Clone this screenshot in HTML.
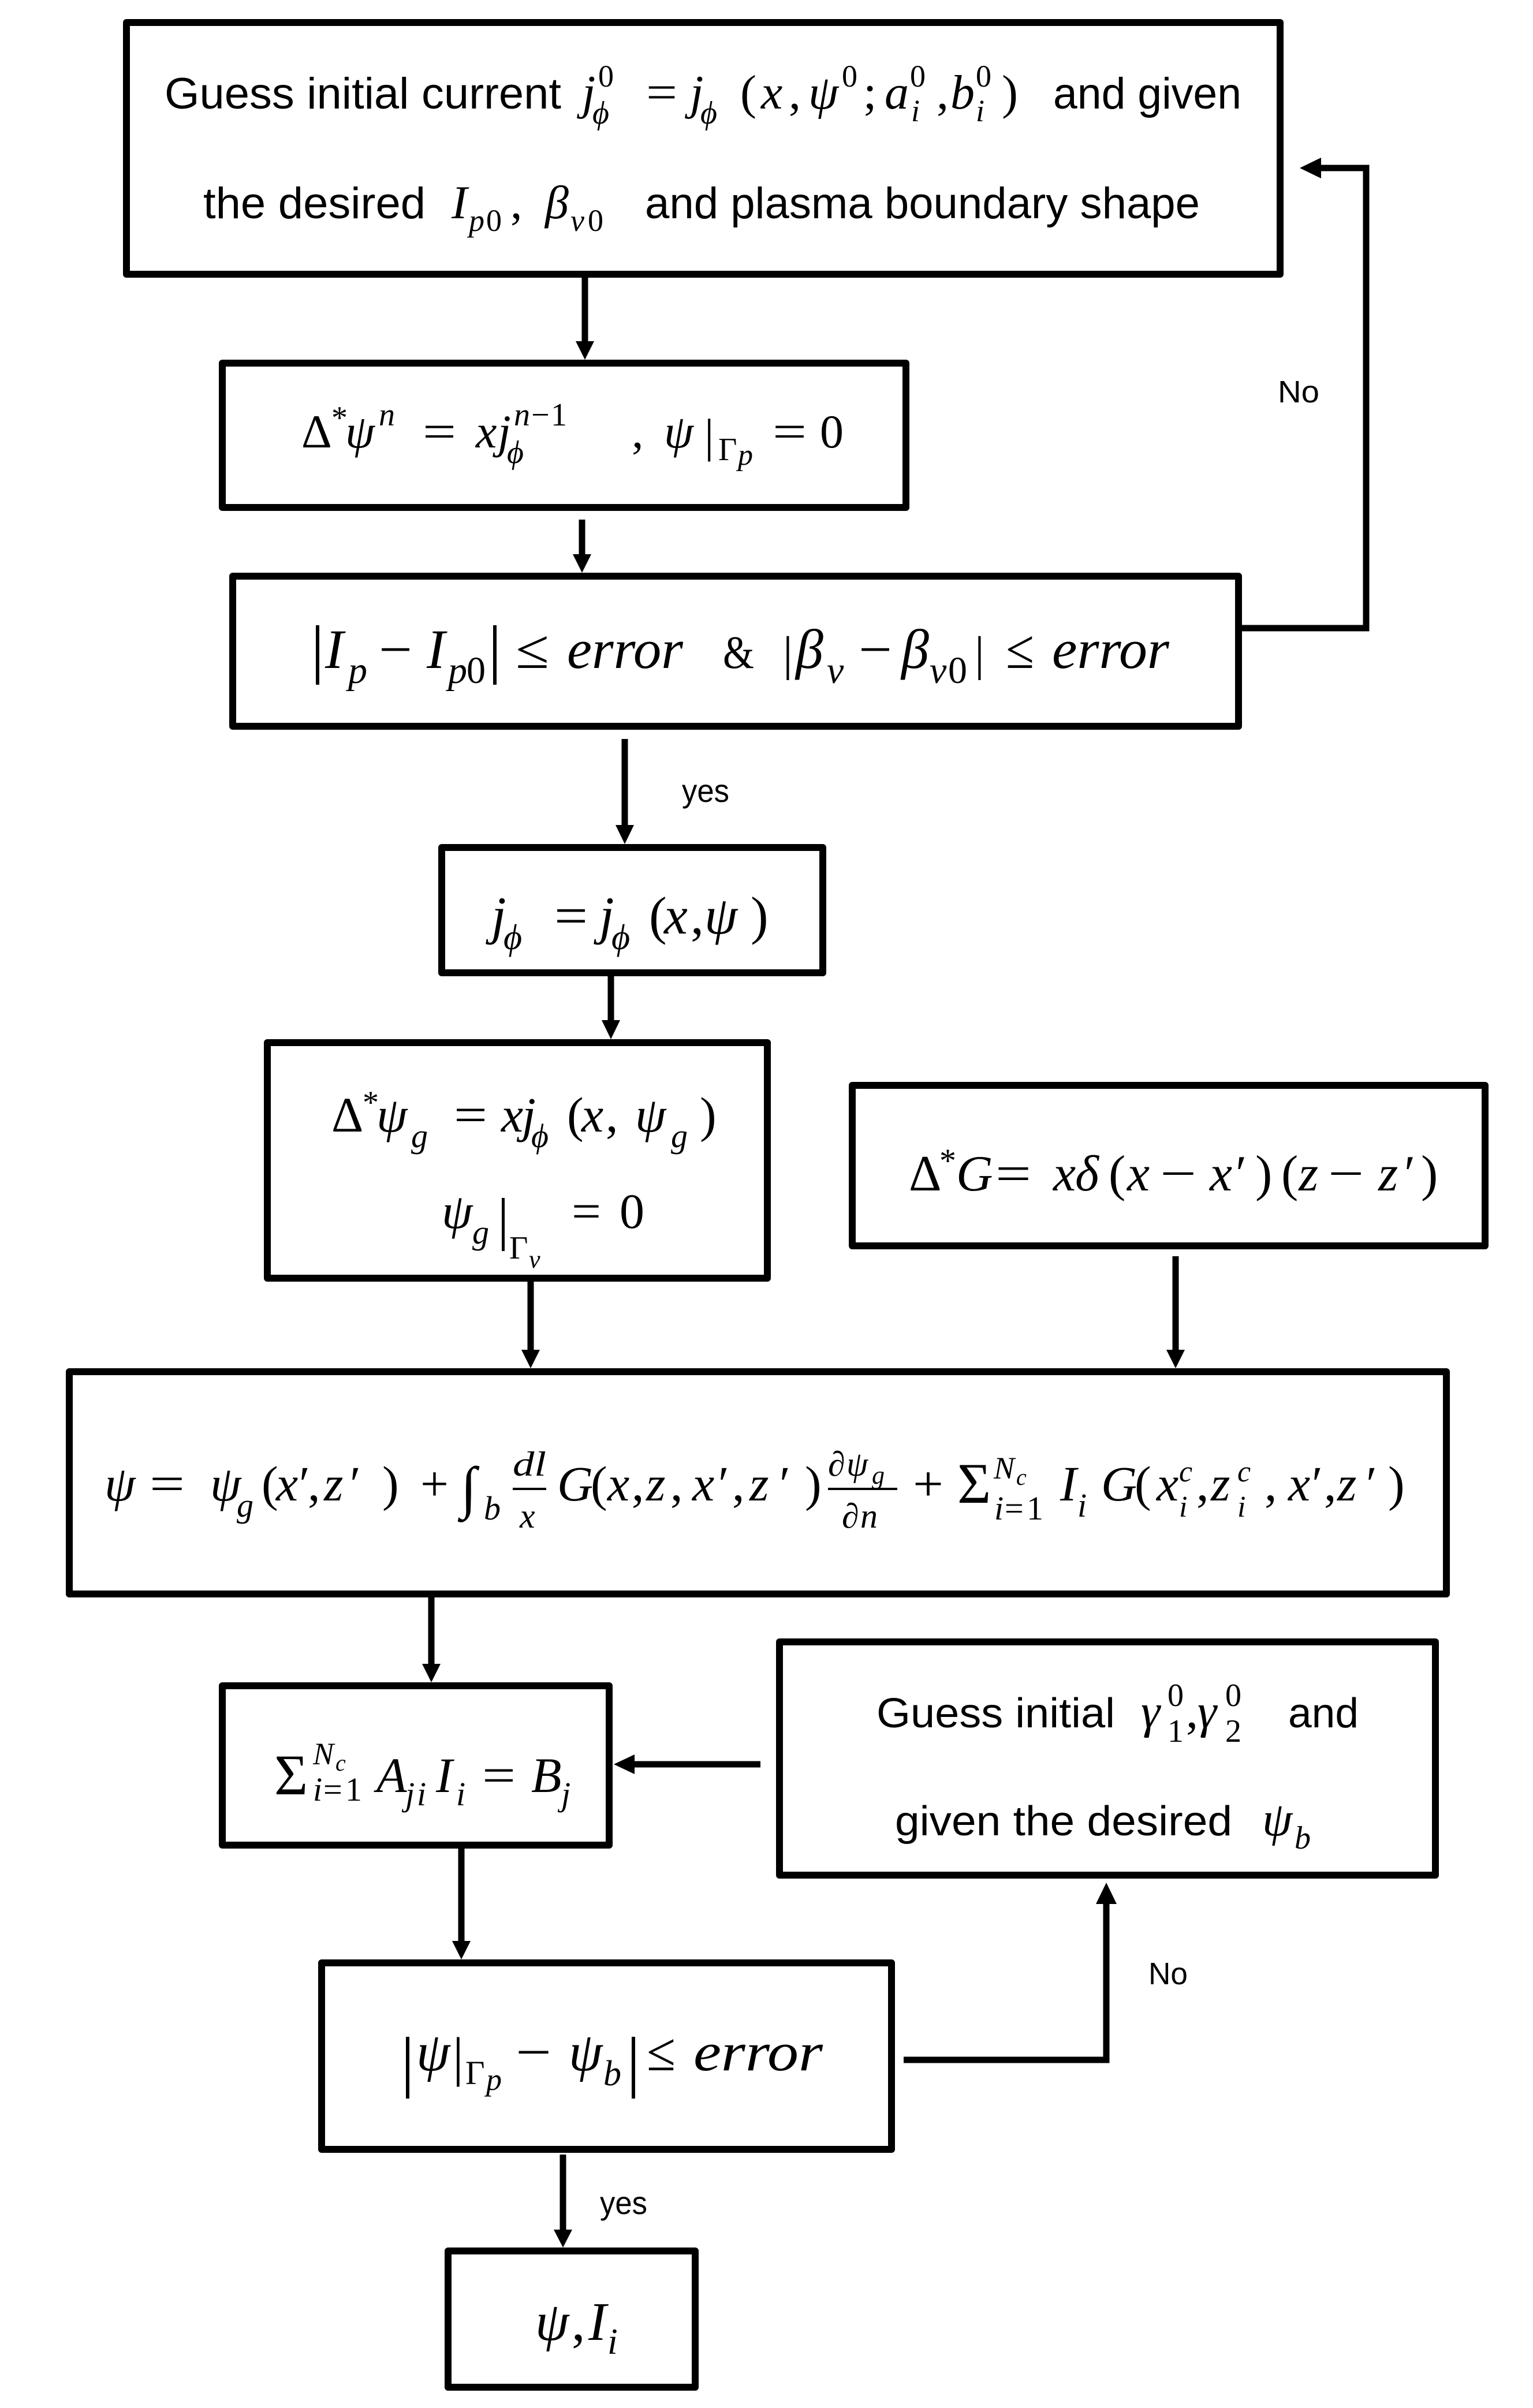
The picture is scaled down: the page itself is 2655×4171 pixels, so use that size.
<!DOCTYPE html>
<html><head><meta charset="utf-8">
<style>
html,body{margin:0;padding:0;background:#fff;}
svg{display:block;}
.s{font-family:"Liberation Sans","DejaVu Sans",sans-serif;}
.m{font-family:"Liberation Serif","DejaVu Serif",serif;font-style:italic;}
.u{font-family:"Liberation Serif","DejaVu Serif",serif;font-style:normal;}
</style></head>
<body>
<svg width="2655" height="4171" viewBox="0 0 2655 4171" xmlns="http://www.w3.org/2000/svg">
<rect width="2655" height="4171" fill="#fff"/>

<!-- boxes -->
<g fill="none" stroke="#000" stroke-width="12" stroke-linejoin="round">
  <rect x="219" y="39" width="1998" height="436"/>
  <rect x="385" y="629" width="1184" height="250"/>
  <rect x="403" y="998" width="1742" height="260"/>
  <rect x="765" y="1468" width="660" height="217"/>
  <rect x="463" y="1806" width="866" height="408"/>
  <rect x="1476" y="1880" width="1096" height="278"/>
  <rect x="120" y="2376" width="2385" height="385"/>
  <rect x="385" y="2920" width="670" height="276"/>
  <rect x="1350" y="2844" width="1136" height="404"/>
  <rect x="557" y="3400" width="987" height="323"/>
  <rect x="776" y="3899" width="428" height="236"/>
</g>

<!-- connectors -->
<g fill="none" stroke="#000" stroke-width="11">
  <line x1="1013" y1="481" x2="1013" y2="594"/>
  <line x1="1008" y1="900" x2="1008" y2="964"/>
  <line x1="1082" y1="1280" x2="1082" y2="1432"/>
  <line x1="1058" y1="1691" x2="1058" y2="1770"/>
  <line x1="919" y1="2220" x2="919" y2="2342"/>
  <line x1="2036" y1="2176" x2="2036" y2="2342"/>
  <line x1="747" y1="2767" x2="747" y2="2886"/>
  <line x1="799" y1="3202" x2="799" y2="3366"/>
  <line x1="975" y1="3732" x2="975" y2="3865"/>
  <line x1="1317" y1="3056" x2="1095" y2="3056"/>
  <polyline points="2151,1088 2366,1088 2366,291 2285,291" stroke-linejoin="miter"/>
  <polyline points="1565,3568 1916,3568 1916,3294" stroke-linejoin="miter"/>
</g>
<g fill="#000">
  <polygon points="997,591 1029,591 1013,623"/>
  <polygon points="992,960 1024,960 1008,992"/>
  <polygon points="1066,1429 1098,1429 1082,1462"/>
  <polygon points="1042,1767 1074,1767 1058,1800"/>
  <polygon points="903,2338 935,2338 919,2370"/>
  <polygon points="2020,2338 2052,2338 2036,2370"/>
  <polygon points="731,2882 763,2882 747,2914"/>
  <polygon points="783,3362 815,3362 799,3394"/>
  <polygon points="959,3862 991,3862 975,3893"/>
  <polygon points="1063,3056 1099,3039 1099,3073"/>
  <polygon points="2251,291 2288,273 2288,309"/>
  <polygon points="1916,3261 1898,3298 1934,3298"/>
  <!-- tall bars and fraction bars -->
  <rect x="547" y="1083" width="6" height="103"/>
  <rect x="854" y="1083" width="6" height="103"/>
  <rect x="869" y="2075" width="5" height="92"/>
  <rect x="703" y="3528" width="6" height="107"/>
  <rect x="1094" y="3528" width="6" height="107"/>
  <rect x="888" y="2577" width="58" height="4"/>
  <rect x="1434" y="2577" width="120" height="4"/>
</g>

<!-- labels -->
<g fill="#000">
  <text class="s" x="2213" y="697" font-size="54" textLength="72" lengthAdjust="spacingAndGlyphs">No</text>
  <text class="s" x="1181" y="1389" font-size="56" textLength="82" lengthAdjust="spacingAndGlyphs">yes</text>
  <text class="s" x="1989" y="3437" font-size="54" textLength="68" lengthAdjust="spacingAndGlyphs">No</text>
  <text class="s" x="1039" y="3835" font-size="56" textLength="82" lengthAdjust="spacingAndGlyphs">yes</text>
</g>

<!-- Box 1 -->
<g fill="#000">
  <text class="s" x="285" y="188" font-size="76" textLength="687" lengthAdjust="spacingAndGlyphs">Guess initial current</text>
  <text class="m" x="1008" y="188" font-size="84">j</text>
  <text class="m" x="1026" y="214" font-size="56">ϕ</text>
  <text class="u" x="1036" y="150" font-size="54">0</text>
  <text class="u" x="1119" y="188" font-size="84" textLength="54" lengthAdjust="spacingAndGlyphs">=</text>
  <text class="m" x="1195" y="188" font-size="84">j</text>
  <text class="m" x="1213" y="214" font-size="56">ϕ</text>
  <text class="u" x="1282" y="188" font-size="84">(</text>
  <text class="m" x="1318" y="188" font-size="84">x</text>
  <text class="u" x="1366" y="188" font-size="84">,</text>
  <text class="m" x="1400" y="188" font-size="84">ψ</text>
  <text class="u" x="1458" y="150" font-size="54">0</text>
  <text class="u" x="1495" y="188" font-size="84">;</text>
  <text class="m" x="1532" y="188" font-size="84">a</text>
  <text class="u" x="1576" y="150" font-size="54">0</text>
  <text class="m" x="1578" y="210" font-size="54">i</text>
  <text class="u" x="1622" y="188" font-size="84">,</text>
  <text class="m" x="1646" y="188" font-size="84">b</text>
  <text class="u" x="1690" y="150" font-size="54">0</text>
  <text class="m" x="1690" y="210" font-size="54">i</text>
  <text class="u" x="1735" y="188" font-size="84">)</text>
  <text class="s" x="1824" y="188" font-size="76" textLength="326" lengthAdjust="spacingAndGlyphs">and given</text>

  <text class="s" x="352" y="378" font-size="76" textLength="385" lengthAdjust="spacingAndGlyphs">the desired</text>
  <text class="m" x="782" y="378" font-size="82">I</text>
  <text class="m" x="812" y="400" font-size="54">p</text>
  <text class="u" x="842" y="400" font-size="54">0</text>
  <text class="u" x="884" y="378" font-size="82">,</text>
  <text class="m" x="944" y="378" font-size="82">β</text>
  <text class="m" x="988" y="400" font-size="54">v</text>
  <text class="u" x="1018" y="400" font-size="54">0</text>
  <text class="s" x="1117" y="378" font-size="76" textLength="961" lengthAdjust="spacingAndGlyphs">and plasma boundary shape</text>
</g>

<!-- Box 2 -->
<g fill="#000">
  <text class="u" x="522" y="775" font-size="82">Δ</text>
  <text class="u" x="574" y="742" font-size="56">*</text>
  <text class="m" x="598" y="775" font-size="82">ψ</text>
  <text class="m" x="656" y="737" font-size="56">n</text>
  <text class="u" x="732" y="775" font-size="82" textLength="58" lengthAdjust="spacingAndGlyphs">=</text>
  <text class="m" x="824" y="775" font-size="82">x</text>
  <text class="m" x="862" y="775" font-size="82">j</text>
  <text class="m" x="878" y="802" font-size="56">ϕ</text>
  <text class="m" x="890" y="737" font-size="56">n</text>
  <text class="u" x="920" y="737" font-size="56">−</text>
  <text class="u" x="954" y="737" font-size="56">1</text>
  <text class="u" x="1094" y="775" font-size="82">,</text>
  <text class="m" x="1150" y="775" font-size="82">ψ</text>
  <text class="u" x="1220" y="782" font-size="82">|</text>
  <text class="u" x="1244" y="797" font-size="56">Γ</text>
  <text class="m" x="1278" y="805" font-size="52">p</text>
  <text class="u" x="1338" y="775" font-size="82" textLength="59" lengthAdjust="spacingAndGlyphs">=</text>
  <text class="u" x="1420" y="775" font-size="82">0</text>
</g>

<!-- Box 3 -->
<g fill="#000">
  <text class="m" x="563" y="1157" font-size="96">I</text>
  <text class="m" x="603" y="1183" font-size="66">p</text>
  <text class="u" x="656" y="1157" font-size="96" textLength="58" lengthAdjust="spacingAndGlyphs">−</text>
  <text class="m" x="739" y="1157" font-size="96">I</text>
  <text class="m" x="776" y="1183" font-size="66">p</text>
  <text class="u" x="808" y="1183" font-size="66">0</text>
  <text class="u" x="893" y="1157" font-size="96" textLength="58" lengthAdjust="spacingAndGlyphs">≤</text>
  <text class="m" x="982" y="1157" font-size="96" textLength="201" lengthAdjust="spacingAndGlyphs">error</text>
  <text class="u" x="1252" y="1157" font-size="80" textLength="54" lengthAdjust="spacingAndGlyphs">&amp;</text>
  <text class="u" x="1356" y="1160" font-size="84">|</text>
  <text class="m" x="1378" y="1157" font-size="96">β</text>
  <text class="m" x="1432" y="1183" font-size="66">v</text>
  <text class="u" x="1487" y="1157" font-size="96" textLength="58" lengthAdjust="spacingAndGlyphs">−</text>
  <text class="m" x="1561" y="1157" font-size="96">β</text>
  <text class="m" x="1610" y="1183" font-size="66">v</text>
  <text class="u" x="1642" y="1183" font-size="66">0</text>
  <text class="u" x="1688" y="1160" font-size="84">|</text>
  <text class="u" x="1742" y="1157" font-size="96" textLength="49" lengthAdjust="spacingAndGlyphs">≤</text>
  <text class="m" x="1822" y="1157" font-size="96" textLength="203" lengthAdjust="spacingAndGlyphs">error</text>
</g>

<!-- Box 4 -->
<g fill="#000">
  <text class="m" x="851" y="1617" font-size="92">j</text>
  <text class="m" x="872" y="1644" font-size="62">ϕ</text>
  <text class="u" x="960" y="1617" font-size="92" textLength="58" lengthAdjust="spacingAndGlyphs">=</text>
  <text class="m" x="1038" y="1617" font-size="92">j</text>
  <text class="m" x="1059" y="1644" font-size="62">ϕ</text>
  <text class="u" x="1124" y="1617" font-size="92">(</text>
  <text class="m" x="1150" y="1617" font-size="92">x</text>
  <text class="u" x="1196" y="1617" font-size="92">,</text>
  <text class="m" x="1220" y="1617" font-size="92">ψ</text>
  <text class="u" x="1300" y="1617" font-size="92">)</text>
</g>

<!-- Box 5 -->
<g fill="#000">
  <text class="u" x="574" y="1960" font-size="86">Δ</text>
  <text class="u" x="628" y="1928" font-size="56">*</text>
  <text class="m" x="652" y="1960" font-size="86">ψ</text>
  <text class="m" x="712" y="1987" font-size="58">g</text>
  <text class="u" x="786" y="1960" font-size="86" textLength="58" lengthAdjust="spacingAndGlyphs">=</text>
  <text class="m" x="868" y="1960" font-size="86">x</text>
  <text class="m" x="904" y="1960" font-size="86">j</text>
  <text class="m" x="920" y="1987" font-size="58">ϕ</text>
  <text class="u" x="982" y="1960" font-size="86">(</text>
  <text class="m" x="1007" y="1960" font-size="86">x</text>
  <text class="u" x="1049" y="1960" font-size="86">,</text>
  <text class="m" x="1100" y="1960" font-size="86">ψ</text>
  <text class="m" x="1162" y="1987" font-size="58">g</text>
  <text class="u" x="1212" y="1960" font-size="86">)</text>

  <text class="m" x="765" y="2127" font-size="86">ψ</text>
  <text class="m" x="818" y="2154" font-size="58">g</text>
  <text class="u" x="882" y="2180" font-size="56">Γ</text>
  <text class="m" x="916" y="2196" font-size="44">v</text>
  <text class="u" x="990" y="2127" font-size="86" textLength="51" lengthAdjust="spacingAndGlyphs">=</text>
  <text class="u" x="1073" y="2127" font-size="86">0</text>
</g>

<!-- Box 6 -->
<g fill="#000">
  <text class="u" x="1574" y="2062" font-size="88">Δ</text>
  <text class="u" x="1627" y="2030" font-size="58">*</text>
  <text class="m" x="1656" y="2062" font-size="88">G</text>
  <text class="u" x="1724" y="2062" font-size="88" textLength="62" lengthAdjust="spacingAndGlyphs">=</text>
  <text class="m" x="1824" y="2062" font-size="88">x</text>
  <text class="m" x="1862" y="2062" font-size="88">δ</text>
  <text class="u" x="1920" y="2062" font-size="88">(</text>
  <text class="m" x="1952" y="2062" font-size="88">x</text>
  <text class="u" x="2009" y="2062" font-size="88" textLength="63" lengthAdjust="spacingAndGlyphs">−</text>
  <text class="m" x="2095" y="2062" font-size="88">x</text>
  <text class="u" x="2140" y="2062" font-size="88">′</text>
  <text class="u" x="2174" y="2062" font-size="88">)</text>
  <text class="u" x="2219" y="2062" font-size="88">(</text>
  <text class="m" x="2249" y="2062" font-size="88">z</text>
  <text class="u" x="2300" y="2062" font-size="88" textLength="62" lengthAdjust="spacingAndGlyphs">−</text>
  <text class="m" x="2387" y="2062" font-size="88">z</text>
  <text class="u" x="2432" y="2062" font-size="88">′</text>
  <text class="u" x="2461" y="2062" font-size="88">)</text>
</g>

<!-- Box 7 -->
<g fill="#000">
  <text class="m" x="181" y="2599" font-size="86">ψ</text>
  <text class="u" x="259" y="2599" font-size="86" textLength="61" lengthAdjust="spacingAndGlyphs">=</text>
  <text class="m" x="364" y="2599" font-size="86">ψ</text>
  <text class="m" x="410" y="2627" font-size="58">g</text>
  <text class="u" x="453" y="2599" font-size="86">(</text>
  <text class="m" x="478" y="2599" font-size="86">x</text>
  <text class="u" x="518" y="2599" font-size="86">′</text>
  <text class="u" x="533" y="2599" font-size="86">,</text>
  <text class="m" x="561" y="2599" font-size="86">z</text>
  <text class="u" x="606" y="2599" font-size="86">′</text>
  <text class="u" x="662" y="2599" font-size="86">)</text>
  <text class="u" x="728" y="2599" font-size="86" textLength="49" lengthAdjust="spacingAndGlyphs">+</text>
  <text class="u" x="798" y="2610" font-size="100">∫</text>
  <text class="m" x="838" y="2632" font-size="58">b</text>
  <text class="m" x="888" y="2556" font-size="60" textLength="58" lengthAdjust="spacingAndGlyphs">dl</text>
  <text class="m" x="900" y="2646" font-size="60">x</text>
  <text class="m" x="965" y="2599" font-size="86">G</text>
  <text class="u" x="1023" y="2599" font-size="86">(</text>
  <text class="m" x="1052" y="2599" font-size="86">x</text>
  <text class="u" x="1094" y="2599" font-size="86">,</text>
  <text class="m" x="1119" y="2599" font-size="86">z</text>
  <text class="u" x="1161" y="2599" font-size="86">,</text>
  <text class="m" x="1199" y="2599" font-size="86">x</text>
  <text class="u" x="1244" y="2599" font-size="86">′</text>
  <text class="u" x="1268" y="2599" font-size="86">,</text>
  <text class="m" x="1298" y="2599" font-size="86">z</text>
  <text class="u" x="1350" y="2599" font-size="86">′</text>
  <text class="u" x="1394" y="2599" font-size="86">)</text>
  <text class="u" x="1434" y="2556" font-size="60">∂</text>
  <text class="m" x="1466" y="2556" font-size="60">ψ</text>
  <text class="m" x="1510" y="2570" font-size="44">g</text>
  <text class="u" x="1458" y="2646" font-size="60">∂</text>
  <text class="m" x="1490" y="2646" font-size="60">n</text>
  <text class="u" x="1581" y="2599" font-size="86" textLength="53" lengthAdjust="spacingAndGlyphs">+</text>
  <text class="u" x="1658" y="2603" font-size="100">Σ</text>
  <text class="m" x="1721" y="2561" font-size="54">N</text>
  <text class="m" x="1760" y="2572" font-size="40">c</text>
  <text class="m" x="1722" y="2632" font-size="58">i</text>
  <text class="u" x="1740" y="2632" font-size="58">=</text>
  <text class="u" x="1778" y="2632" font-size="58">1</text>
  <text class="m" x="1836" y="2599" font-size="86">I</text>
  <text class="m" x="1866" y="2627" font-size="58">i</text>
  <text class="m" x="1907" y="2599" font-size="86">G</text>
  <text class="u" x="1965" y="2599" font-size="86">(</text>
  <text class="m" x="2003" y="2599" font-size="86">x</text>
  <text class="m" x="2042" y="2566" font-size="52">c</text>
  <text class="m" x="2042" y="2627" font-size="52">i</text>
  <text class="u" x="2072" y="2599" font-size="86">,</text>
  <text class="m" x="2097" y="2599" font-size="86">z</text>
  <text class="m" x="2143" y="2566" font-size="52">c</text>
  <text class="m" x="2143" y="2627" font-size="52">i</text>
  <text class="u" x="2190" y="2599" font-size="86">,</text>
  <text class="m" x="2231" y="2599" font-size="86">x</text>
  <text class="u" x="2272" y="2599" font-size="86">′</text>
  <text class="u" x="2293" y="2599" font-size="86">,</text>
  <text class="m" x="2316" y="2599" font-size="86">z</text>
  <text class="u" x="2366" y="2599" font-size="86">′</text>
  <text class="u" x="2404" y="2599" font-size="86">)</text>
</g>

<!-- Box 8 -->
<g fill="#000">
  <text class="u" x="475" y="3108" font-size="100">Σ</text>
  <text class="m" x="542" y="3056" font-size="54">N</text>
  <text class="m" x="581" y="3067" font-size="40">c</text>
  <text class="m" x="542" y="3119" font-size="58">i</text>
  <text class="u" x="560" y="3119" font-size="58">=</text>
  <text class="u" x="598" y="3119" font-size="58">1</text>
  <text class="m" x="652" y="3104" font-size="86">A</text>
  <text class="m" x="702" y="3127" font-size="58">j</text>
  <text class="m" x="722" y="3127" font-size="58">i</text>
  <text class="m" x="755" y="3104" font-size="86">I</text>
  <text class="m" x="790" y="3127" font-size="58">i</text>
  <text class="u" x="835" y="3104" font-size="86" textLength="58" lengthAdjust="spacingAndGlyphs">=</text>
  <text class="m" x="920" y="3104" font-size="86">B</text>
  <text class="m" x="972" y="3127" font-size="58">j</text>
</g>

<!-- Box 9 -->
<g fill="#000">
  <text class="s" x="1518" y="2992" font-size="72" textLength="413" lengthAdjust="spacingAndGlyphs">Guess initial</text>
  <text class="m" x="1976" y="2992" font-size="84">γ</text>
  <text class="u" x="2022" y="3017" font-size="56">1</text>
  <text class="u" x="2022" y="2955" font-size="56">0</text>
  <text class="u" x="2054" y="2992" font-size="84">,</text>
  <text class="m" x="2074" y="2992" font-size="84">γ</text>
  <text class="u" x="2122" y="3017" font-size="56">2</text>
  <text class="u" x="2122" y="2955" font-size="56">0</text>
  <text class="s" x="2231" y="2992" font-size="72" textLength="122" lengthAdjust="spacingAndGlyphs">and</text>
  <text class="s" x="1550" y="3179" font-size="72" textLength="584" lengthAdjust="spacingAndGlyphs">given the desired</text>
  <text class="m" x="2186" y="3179" font-size="84">ψ</text>
  <text class="m" x="2242" y="3202" font-size="56">b</text>
</g>

<!-- Box 10 -->
<g fill="#000">
  <text class="m" x="721" y="3586" font-size="94">ψ</text>
  <text class="u" x="784" y="3594" font-size="94">|</text>
  <text class="u" x="806" y="3610" font-size="58">Γ</text>
  <text class="m" x="842" y="3620" font-size="54">p</text>
  <text class="u" x="893" y="3586" font-size="94" textLength="62" lengthAdjust="spacingAndGlyphs">−</text>
  <text class="m" x="985" y="3586" font-size="94">ψ</text>
  <text class="m" x="1045" y="3612" font-size="62">b</text>
  <text class="u" x="1120" y="3586" font-size="94" textLength="50" lengthAdjust="spacingAndGlyphs">≤</text>
  <text class="m" x="1201" y="3586" font-size="94" textLength="224" lengthAdjust="spacingAndGlyphs">error</text>
</g>

<!-- Box 11 -->
<g fill="#000">
  <text class="m" x="927" y="4053" font-size="94">ψ</text>
  <text class="u" x="990" y="4053" font-size="94">,</text>
  <text class="m" x="1019" y="4053" font-size="94">I</text>
  <text class="m" x="1052" y="4077" font-size="64">i</text>
</g>
</svg>
</body></html>
